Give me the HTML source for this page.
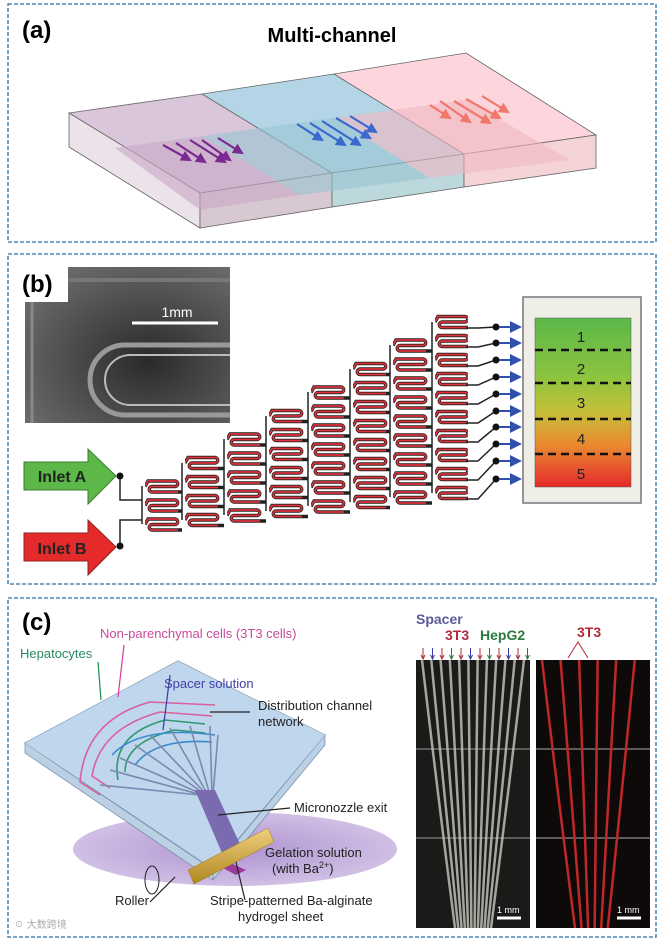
<!DOCTYPE html>
<html><head><meta charset="utf-8"><style>
html,body{margin:0;padding:0;background:#fff}
svg{display:block}
text{font-family:"Liberation Sans","Noto Sans CJK SC",sans-serif}
</style></head><body>
<svg id="s" width="658" height="940" viewBox="0 0 658 940" xmlns="http://www.w3.org/2000/svg">
<defs>
<linearGradient id="gr" x1="0" y1="0" x2="0" y2="1">
<stop offset="0" stop-color="#5bb84a"/><stop offset="0.35" stop-color="#8cc43e"/><stop offset="0.55" stop-color="#c4c038"/><stop offset="0.75" stop-color="#ea8a30"/><stop offset="1" stop-color="#e42a2a"/></linearGradient>
<radialGradient id="sem" cx="0.6" cy="0.6" r="0.7"><stop offset="0" stop-color="#2a2a2a"/><stop offset="1" stop-color="#6a6a6a"/></radialGradient>
<linearGradient id="gold" x1="0" y1="0" x2="0" y2="1"><stop offset="0" stop-color="#f0d080"/><stop offset="1" stop-color="#b08820"/></linearGradient>
<radialGradient id="pur" cx="0.5" cy="0.5" r="0.5"><stop offset="0" stop-color="#a080c8"/><stop offset="1" stop-color="#c8b4e0"/></radialGradient>
<marker id="ab" markerWidth="6" markerHeight="6" refX="5" refY="3" orient="auto"><path d="M0,0L6,3L0,6z" fill="#3050b0"/></marker>
<marker id="mp" markerWidth="5" markerHeight="5" refX="4" refY="2.5" orient="auto"><path d="M0,0L5,2.5L0,5z" fill="#7a2a90"/></marker>
<marker id="mb" markerWidth="5" markerHeight="5" refX="4" refY="2.5" orient="auto"><path d="M0,0L5,2.5L0,5z" fill="#3a6ad0"/></marker>
<marker id="mr" markerWidth="5" markerHeight="5" refX="4" refY="2.5" orient="auto"><path d="M0,0L5,2.5L0,5z" fill="#f0786a"/></marker>
<pattern id="p" x="0" y="0" width="39" height="19" patternUnits="userSpaceOnUse">
<path d="M0,9.5 L3,4 L30,4 A2.75,2.75 0 0 1 30,9.5 L7,9.5 A2.75,2.75 0 0 0 7,15 L39,15" fill="none" stroke="#222" stroke-width="3.4"/>
<path d="M0,9.5 L3,4 L30,4 A2.75,2.75 0 0 1 30,9.5 L7,9.5 A2.75,2.75 0 0 0 7,15 L33,15" fill="none" stroke="#e0303a" stroke-width="1.8"/>
</pattern>
</defs>
<g fill="none" stroke="#2a6fa8" stroke-width="1.3" stroke-dasharray="4,2">
<rect x="8" y="4" width="648" height="238"/>
<rect x="8" y="254" width="648" height="330"/>
<rect x="8" y="598" width="648" height="339"/>
</g>
<!-- panel a -->
<text x="22" y="38" font-size="24" font-weight="bold">(a)</text>
<text x="332" y="42" font-size="20" font-weight="bold" text-anchor="middle">Multi-channel</text>
<g stroke="#666" stroke-width="0.8">
<polygon points="69,113 202,94 332,173 200,193" fill="#d9c6da"/>
<polygon points="202,94 334,74 464,154 332,173" fill="#b3d5e5"/>
<polygon points="334,74 466,53 596,135 464,154" fill="#fcd5dd"/>
<polygon points="69,113 200,193 200,228 69,147" fill="#ece2ea"/>
<polygon points="200,193 332,173 332,207 200,228" fill="#d8c8d2"/>
<polygon points="332,173 464,154 464,187 332,207" fill="#bcd8dc"/>
<polygon points="464,154 596,135 596,168 464,187" fill="#f4d4d6"/>
</g>
<polygon points="115,148 202,136 300,195 200,210" fill="#c8a8c4" opacity="0.6"/>
<polygon points="202,136 334,118 430,178 300,195" fill="#98c4d0" opacity="0.6"/>
<polygon points="334,118 466,100 570,160 430,178" fill="#f0b8c0" opacity="0.6"/>
<g stroke-width="2.2" fill="none">
<g stroke="#7a2a90" marker-end="url(#mp)"><line x1="163" y1="145" x2="190" y2="160"/><line x1="176" y1="143" x2="205" y2="162"/><line x1="190" y1="140" x2="225" y2="162"/><line x1="202" y1="140" x2="230" y2="160"/><line x1="218" y1="138" x2="242" y2="153"/></g>
<g stroke="#3a6ad0" marker-end="url(#mb)"><line x1="297" y1="124" x2="322" y2="140"/><line x1="310" y1="123" x2="345" y2="145"/><line x1="322" y1="121" x2="360" y2="145"/><line x1="336" y1="118" x2="370" y2="138"/><line x1="350" y1="116" x2="376" y2="132"/></g>
<g stroke="#f0786a" marker-end="url(#mr)"><line x1="430" y1="105" x2="450" y2="118"/><line x1="440" y1="101" x2="470" y2="122"/><line x1="454" y1="101" x2="490" y2="123"/><line x1="466" y1="99" x2="500" y2="118"/><line x1="482" y1="96" x2="508" y2="112"/></g>
</g>
<!-- panel b -->
<rect x="25" y="267" width="205" height="156" fill="url(#sem)"/>
<path d="M230,355 L130,355 A25,25 0 0 0 130,405 L230,405" fill="none" stroke="#bbb" stroke-width="2"/>
<path d="M230,345 L125,345 A35,35 0 0 0 125,415 L230,415" fill="none" stroke="#999" stroke-width="5"/>
<line x1="32" y1="267" x2="32" y2="423" stroke="#888" stroke-width="3"/>
<line x1="60" y1="280" x2="230" y2="280" stroke="#777" stroke-width="4"/>
<rect x="25" y="267" width="43" height="35" fill="#fff"/>
<text x="22" y="292" font-size="24" font-weight="bold">(b)</text>
<line x1="132" y1="323" x2="218" y2="323" stroke="#fff" stroke-width="3"/>
<text x="177" y="317" font-size="14" fill="#fff" text-anchor="middle">1mm</text>
<polygon points="24,462 88,462 88,449 116,476 88,504 88,490 24,490" fill="#5cb848" stroke="#3a7a30"/>
<text x="62" y="482" font-size="16" font-weight="bold" text-anchor="middle" fill="#222">Inlet A</text>
<polygon points="24,533 88,533 88,520 116,547 88,575 88,561 24,561" fill="#e42a2a" stroke="#902020"/>
<text x="62" y="554" font-size="16" font-weight="bold" text-anchor="middle" fill="#222">Inlet B</text>
<g stroke="#222" stroke-width="1.5" fill="none">
<path d="M120,476 L120,500 L142,500 M120,546 L120,520 L142,520"/>
<line x1="142" y1="486" x2="142" y2="524"/>
<line x1="182" y1="463" x2="182" y2="520"/>
<line x1="224" y1="439" x2="224" y2="515"/>
<line x1="266" y1="416" x2="266" y2="511"/>
<line x1="308" y1="392" x2="308" y2="506"/>
<line x1="350" y1="369" x2="350" y2="502"/>
<line x1="390" y1="345" x2="390" y2="497"/>
<line x1="432" y1="322" x2="432" y2="493"/>
</g>
<g>
<rect transform="translate(145,477)" width="37" height="57" fill="url(#p)"/>
<rect transform="translate(185,453.5)" width="39" height="76" fill="url(#p)"/>
<rect transform="translate(227,430)" width="39" height="95" fill="url(#p)"/>
<rect transform="translate(269,406.5)" width="39" height="114" fill="url(#p)"/>
<rect transform="translate(311,383)" width="39" height="133" fill="url(#p)"/>
<rect transform="translate(353,359.5)" width="37" height="152" fill="url(#p)"/>
<rect transform="translate(393,336)" width="39" height="171" fill="url(#p)"/>
<rect transform="translate(435,312.5)" width="33" height="190" fill="url(#p)"/>
</g>
<g stroke="#222" stroke-width="1.5" fill="none">
<path d="M466,328 L478,328 L496,327"/>
<path d="M466,347 L478,347 L496,343"/>
<path d="M466,366 L478,366 L496,360"/>
<path d="M466,385 L478,385 L496,377"/>
<path d="M466,404 L478,404 L496,394"/>
<path d="M466,423 L478,423 L496,411"/>
<path d="M466,442 L478,442 L496,427"/>
<path d="M466,461 L478,461 L496,444"/>
<path d="M466,480 L478,480 L496,461"/>
<path d="M466,499 L478,499 L496,479"/>
</g>
<g fill="#111"><circle cx="120" cy="476" r="3.5"/><circle cx="120" cy="546" r="3.5"/>
<circle cx="496" cy="327" r="3.5"/><circle cx="496" cy="343" r="3.5"/><circle cx="496" cy="360" r="3.5"/><circle cx="496" cy="377" r="3.5"/><circle cx="496" cy="394" r="3.5"/><circle cx="496" cy="411" r="3.5"/><circle cx="496" cy="427" r="3.5"/><circle cx="496" cy="444" r="3.5"/><circle cx="496" cy="461" r="3.5"/><circle cx="496" cy="479" r="3.5"/></g>
<g stroke="#3050b0" stroke-width="2" marker-end="url(#ab)">
<line x1="499" y1="327" x2="520" y2="327"/><line x1="499" y1="343" x2="520" y2="343"/><line x1="499" y1="360" x2="520" y2="360"/><line x1="499" y1="377" x2="520" y2="377"/><line x1="499" y1="394" x2="520" y2="394"/><line x1="499" y1="411" x2="520" y2="411"/><line x1="499" y1="427" x2="520" y2="427"/><line x1="499" y1="444" x2="520" y2="444"/><line x1="499" y1="461" x2="520" y2="461"/><line x1="499" y1="479" x2="520" y2="479"/>
</g>
<rect x="523" y="297" width="118" height="206" fill="#efeee6" stroke="#777" stroke-width="1.5"/>
<rect x="535" y="318" width="96" height="169" fill="url(#gr)" stroke="#555" stroke-width="0.5"/>
<g stroke="#111" stroke-width="2.5" stroke-dasharray="8,5"><line x1="535" y1="350" x2="631" y2="350"/><line x1="535" y1="383" x2="631" y2="383"/><line x1="535" y1="419" x2="631" y2="419"/><line x1="535" y1="454" x2="631" y2="454"/></g>
<g font-size="15" text-anchor="middle" fill="#222"><text x="581" y="342">1</text><text x="581" y="374">2</text><text x="581" y="408">3</text><text x="581" y="444">4</text><text x="581" y="479">5</text></g>
<!-- panel c -->
<text x="22" y="630" font-size="24" font-weight="bold">(c)</text>
<ellipse cx="235" cy="849" rx="162" ry="37" fill="url(#pur)" opacity="0.85"/>
<polygon points="25,743 178,661 325,735 213,870" fill="#a9c4dc" stroke="#6a8aa8"/>
<polygon points="25,743 213,870 213,880 25,753" fill="#bcd0e4" stroke="#6a8aa8" stroke-width="0.7"/>
<polygon points="213,870 325,735 325,745 213,880" fill="#bcd0e4" stroke="#6a8aa8" stroke-width="0.7"/>
<polygon points="25,743 178,661 325,735 213,868" fill="#c0d6ec"/>
<g fill="none" stroke-width="1.6">
<path d="M100,795 L80,782 Q85,720 150,702 L215,705" stroke="#d8609c"/>
<path d="M110,788 L92,776 Q100,728 160,712 L212,716" stroke="#d8609c"/>
<path d="M118,780 Q110,735 165,720 L205,724" stroke="#2a9a70"/>
<path d="M125,772 Q125,742 175,730 L205,733" stroke="#2a9a70"/>
<path d="M112,755 Q140,725 215,735" stroke="#3a8ad0"/>
<path d="M135,765 Q155,738 212,742" stroke="#3a8ad0"/>
<path d="M100,785 L200,795 M110,770 L202,795 M120,758 L204,795 M135,745 L206,795 M150,735 L207,795 M170,728 L208,795 M190,726 L210,795 M210,726 L212,795 M218,735 L213,795" stroke="#7a8ab0"/>
</g>
<path d="M195,790 L215,790 L245,855 L225,860 Z" fill="#7a6ab0"/>
<path d="M208,860 L228,862 L246,870 L236,875Z" fill="#9a3a9a"/>
<polygon points="188,870 268,828 274,842 194,884" fill="url(#gold)" stroke="#a07818" stroke-width="0.5"/>
<ellipse cx="152" cy="880" rx="7" ry="14" fill="none" stroke="#222"/>
<g stroke-width="1.2" fill="none">
<line x1="98" y1="662" x2="101" y2="700" stroke="#1a8a50"/>
<line x1="124" y1="645" x2="118" y2="697" stroke="#d83a9a"/>
<line x1="170" y1="675" x2="163" y2="730" stroke="#3a3aa0"/>
<line x1="250" y1="712" x2="210" y2="712" stroke="#222"/>
<line x1="290" y1="808" x2="218" y2="815" stroke="#222"/>
<line x1="150" y1="902" x2="175" y2="877" stroke="#222"/>
<line x1="245" y1="900" x2="236" y2="862" stroke="#222"/>
</g>
<text x="100" y="638" font-size="13" fill="#c84a9a">Non-parenchymal cells (3T3 cells)</text>
<text x="20" y="658" font-size="13" fill="#2a8a60">Hepatocytes</text>
<text x="164" y="688" font-size="13" fill="#4040a8">Spacer solution</text>
<text x="258" y="710" font-size="13" fill="#222">Distribution channel</text>
<text x="258" y="726" font-size="13" fill="#222">network</text>
<text x="294" y="812" font-size="13" fill="#222">Micronozzle exit</text>
<text x="265" y="857" font-size="13" fill="#222">Gelation solution</text>
<text x="272" y="873" font-size="13" fill="#222">(with Ba<tspan font-size="9" dy="-5">2+</tspan><tspan dy="5">)</tspan></text>
<text x="115" y="905" font-size="13" fill="#222">Roller</text>
<text x="210" y="905" font-size="13" fill="#222">Stripe-patterned Ba-alginate</text>
<text x="238" y="921" font-size="13" fill="#222">hydrogel sheet</text>
<text x="14" y="928" font-size="10" fill="#aaa">☉ 大数跨境</text>
<rect x="416" y="660" width="114" height="268" fill="#1a1a18"/>
<rect x="536" y="660" width="114" height="268" fill="#0e0a0a"/>
<line x1="416" y1="749" x2="530" y2="749" stroke="#999"/><line x1="416" y1="838" x2="530" y2="838" stroke="#999"/>
<line x1="536" y1="749" x2="650" y2="749" stroke="#aaa"/><line x1="536" y1="838" x2="650" y2="838" stroke="#aaa"/>
<g id="lines"></g>
<text x="416" y="624" font-size="14" font-weight="bold" fill="#5a5a9a">Spacer</text>
<text x="445" y="640" font-size="14" font-weight="bold" fill="#b02a3a">3T3</text>
<text x="480" y="640" font-size="14" font-weight="bold" fill="#2a7a3a">HepG2</text>
<text x="577" y="637" font-size="14" font-weight="bold" fill="#b02a3a">3T3</text>
<path d="M568,658 L578,642 L588,658" fill="none" stroke="#b02a3a"/>
<line x1="497" y1="918" x2="521" y2="918" stroke="#fff" stroke-width="3"/><text x="497" y="913" font-size="9" fill="#fff">1 mm</text>
<line x1="617" y1="918" x2="641" y2="918" stroke="#fff" stroke-width="3"/><text x="617" y="913" font-size="9" fill="#fff">1 mm</text>
<g id="arr"></g>
</svg>
<script>
var NS="http://www.w3.org/2000/svg";
function el(p,t,a){var e=document.createElementNS(NS,t);for(var k in a)e.setAttribute(k,a[k]);p.appendChild(e);return e;}
var L=document.getElementById('lines');
for(var k=0;k<12;k++){
 var t=k/11;
 var x0=422+t*102, x1=455+t*36;
 el(L,'path',{d:'M'+x0+',660 Q'+(x0*0.5+x1*0.5)+',800 '+x1+',928',fill:'none',stroke:'#c8c8c0','stroke-width':2.5,opacity:0.8});
 var x2=542+t*102, x3=575+t*36;
 if(k%2==0) el(L,'path',{d:'M'+x2+',660 Q'+(x2*0.5+x3*0.5)+',800 '+x3+',928',fill:'none',stroke:'#c02828','stroke-width':2.5});
}
var A=document.getElementById('arr');
var cols=['#b02a3a','#3a3aa0','#b02a3a','#2a7a3a','#b02a3a','#3a3aa0','#b02a3a','#2a7a3a','#b02a3a','#3a3aa0','#b02a3a','#2a7a3a'];
for(var k=0;k<12;k++){var x=423+k*9.5;el(A,'line',{x1:x,y1:648,x2:x,y2:658,stroke:cols[k],'stroke-width':1});el(A,'path',{d:'M'+(x-2)+',655 L'+x+',659 L'+(x+2)+',655',fill:'none',stroke:cols[k]});}
</script>
</body></html>
